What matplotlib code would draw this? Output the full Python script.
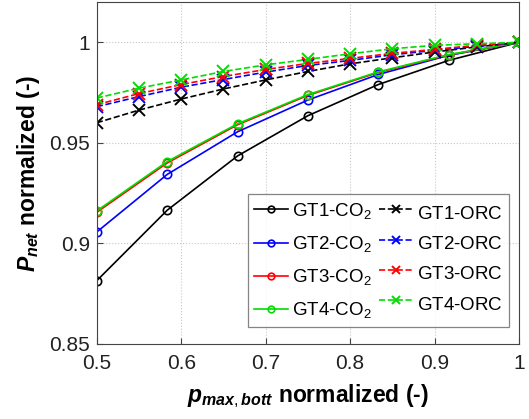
import matplotlib.pyplot as plt
import numpy as np

plt.rcParams['font.family'] = ['Liberation Sans', 'DejaVu Sans']
plt.rcParams['mathtext.fontset'] = 'custom'
plt.rcParams['mathtext.rm'] = 'Liberation Sans'
plt.rcParams['mathtext.it'] = 'Liberation Sans:italic:bold'
plt.rcParams['mathtext.bf'] = 'Liberation Sans:bold'

# datos
x_co2 = [6/12, 7/12, 8/12, 9/12, 10/12, 11/12, 1.0]
gt1_co2 = [0.8815, 0.9165, 0.9435, 0.9635, 0.979, 0.991, 1.0]
gt2_co2 = [0.9057, 0.9343, 0.9555, 0.9713, 0.984, 0.9935, 1.0]
gt3_co2 = [0.9155, 0.9400, 0.9590, 0.9736, 0.9850, 0.9937, 1.0]
gt4_co2 = [0.9162, 0.9407, 0.9595, 0.9740, 0.9853, 0.9939, 1.0]

x_orc = [0.5, 0.55, 0.6, 0.65, 0.7, 0.75, 0.8, 0.85, 0.9, 0.95, 1.0]
gt1_orc = [0.960, 0.9663, 0.9718, 0.9768, 0.9813, 0.9855, 0.9893, 0.9923, 0.9952, 0.9977, 1.0]
gt2_orc = [0.968, 0.973, 0.9777, 0.9815, 0.9852, 0.9885, 0.991, 0.9938, 0.996, 0.998, 1.0]
gt3_orc = [0.969, 0.9745, 0.979, 0.983, 0.9865, 0.9895, 0.992, 0.9945, 0.9965, 0.9985, 1.0]
gt4_orc = [0.9723, 0.9772, 0.9813, 0.9855, 0.9888, 0.9915, 0.9943, 0.9968, 0.9985, 0.9993, 1.0]

colors = ['k', 'b', 'r', '#00dd00']
names = ['GT1', 'GT2', 'GT3', 'GT4']
co2 = [gt1_co2, gt2_co2, gt3_co2, gt4_co2]
orc = [gt1_orc, gt2_orc, gt3_orc, gt4_orc]

fs = 15

fig = plt.figure(figsize=(5.29, 4.19), dpi=100)
ax = fig.add_axes([0.183, 0.179, 0.798, 0.816])

h_co2 = []
h_orc = []
for c, n, yc in zip(colors, names, co2):
    h, = ax.plot(x_co2, yc, '-o', color=c, lw=1.2, ms=6, mfc='none', mew=1.2,
                 label=n + '-CO$_2$')
    h_co2.append(h)
for c, n, yo in zip(colors, names, orc):
    # subindice vacio para alinear con las etiquetas de CO2
    h, = ax.plot(x_orc, yo, '--x', color=c, lw=1.2, ms=8, mew=1.4,
                 label=n + r'-ORC$_{\ }$')
    h_orc.append(h)

ax.set_xlim(0.5, 1.0)
ax.set_ylim(0.85, 1.02)
ax.set_xticks([0.5, 0.6, 0.7, 0.8, 0.9, 1.0])
ax.set_xticklabels(['0.5', '0.6', '0.7', '0.8', '0.9', '1'])
ax.set_yticks([0.85, 0.9, 0.95, 1.0])
ax.set_yticklabels(['0.85', '0.9', '0.95', '1'])
ax.tick_params(labelsize=fs, direction='in', length=4, color='#444444', labelcolor='#222222')
ax.tick_params(axis='x', pad=7)
ax.tick_params(axis='y', pad=5)
ax.grid(True, linestyle=':', color='#c8c8c8', lw=0.8)
for s in ax.spines.values():
    s.set_color('#444444')
    s.set_linewidth(0.8)

ax.set_xlabel(r'$p_{max,bott}$ normalized (-)', fontsize=16.5, fontweight='bold', labelpad=7)
ax.set_ylabel(r'$P_{net}$ normalized (-)', fontsize=16.5, fontweight='bold', labelpad=5)

handles = h_co2 + h_orc
leg = ax.legend(handles=handles, ncol=2, loc='lower right', bbox_to_anchor=(0.976, 0.05),
                fontsize=13.5, frameon=True, fancybox=False, edgecolor='#666666',
                handlelength=1.8, handletextpad=0.2, columnspacing=0.4,
                labelspacing=0.7, borderpad=0.35, markerscale=0.8, borderaxespad=0)
leg.get_frame().set_linewidth(0.9)

plt.savefig('out.png', dpi=100)
